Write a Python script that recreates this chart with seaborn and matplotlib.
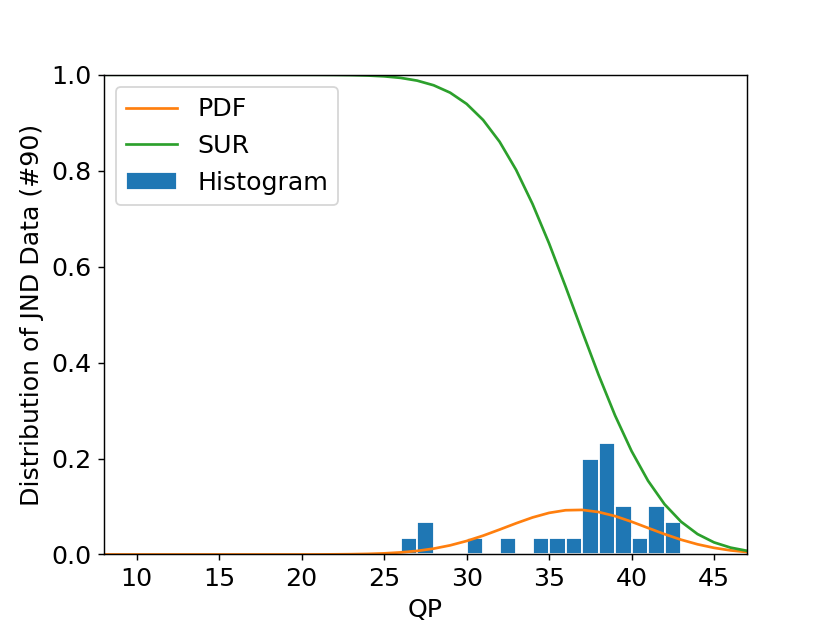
import numpy as np
import matplotlib
matplotlib.use("Agg")
import matplotlib.pyplot as plt
import seaborn as sns

plt.rcParams["font.size"] = 14

# JND QP values of the 30 subjects
jnd_qp = [26, 27, 27, 30, 32, 34, 35, 36,
          37, 37, 37, 37, 37, 37,
          38, 38, 38, 38, 38, 38, 38,
          39, 39, 39, 40, 41, 41, 41, 42, 42]

qp = list(range(8, 48))
pdf = [0.0, 0.0, 0.0, 0.0, 0.0, 0.0, 0.0, 0.0, 0.0, 0.0,
       0.0, 0.0, 0.0, 0.0001, 0.0003, 0.0006, 0.0012, 0.0023, 0.0043, 0.0074,
       0.0122, 0.0190, 0.0281, 0.0392, 0.0519, 0.0650, 0.0772, 0.0867, 0.0922, 0.0929,
       0.0885, 0.0800, 0.0683, 0.0553, 0.0424, 0.0308, 0.0212, 0.0138, 0.0085, 0.0050]
sur = [1.0, 1.0, 1.0, 1.0, 1.0, 1.0, 1.0, 1.0, 1.0, 1.0,
       1.0, 0.99999, 0.99995, 0.99987, 0.99968, 0.99928, 0.99842, 0.99671, 0.9935, 0.98778,
       0.9781, 0.9627, 0.9393, 0.90575, 0.86036, 0.8018, 0.7304, 0.6484, 0.5584, 0.4657,
       0.3745, 0.2898, 0.2156, 0.1536, 0.1047, 0.0684, 0.0425, 0.0252, 0.0143, 0.0077]

fig, ax = plt.subplots(figsize=(830 / 129.7, 623 / 129.7), dpi=129.7)

sns.lineplot(x=qp, y=pdf, color="C1", label="PDF", ax=ax)
sns.lineplot(x=qp, y=sur, color="C2", label="SUR", ax=ax)
sns.histplot(x=jnd_qp, binwidth=1, binrange=(26, 43), stat="probability",
             color="C0", alpha=1, edgecolor="white", linewidth=1,
             label="Histogram", ax=ax)

ax.set_xlim(8, 47)
ax.set_ylim(0, 1.0)
ax.set_xlabel("QP")
ax.set_ylabel("Distribution of JND Data (#90)")
ax.legend(loc="upper left")

fig.savefig("out.png", dpi=129.7)
